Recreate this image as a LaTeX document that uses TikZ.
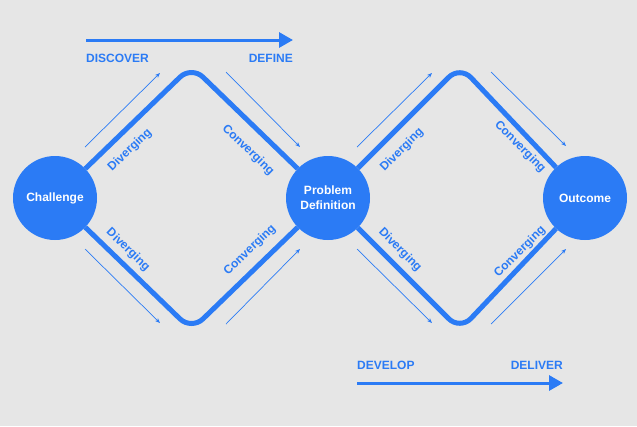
\documentclass[tikz,border=0pt]{standalone}
\usepackage{fontspec}
\setmainfont{Liberation Sans}
\usetikzlibrary{arrows.meta}
\definecolor{bg}{RGB}{230,230,230}
\definecolor{blu}{RGB}{43,123,245}
\begin{document}
\begin{tikzpicture}[x=1pt,y=-1pt,
  hub/.style={circle,fill=blu,minimum size=84pt,inner sep=0pt,text=white,font=\bfseries\fontsize{12}{15}\selectfont,align=center},
  track/.style={draw=blu,line width=5pt,rounded corners=16pt},
  hint/.style={draw=blu,line width=0.7pt,-{Stealth[length=5pt,width=4pt]}},
  phase/.style={text=blu,font=\bfseries\fontsize{12}{14}\selectfont,inner sep=0pt},
  flow/.style={draw=blu,line width=3pt,-{Triangle[length=14pt,width=15pt]}},
  tag/.style={text=blu,font=\bfseries\fontsize{12}{14}\selectfont,inner sep=0pt}]
\fill[bg] (0,0) rectangle (637,426);
\useasboundingbox (0,0) rectangle (637,426);
% hubs
\node[hub] (ch) at (55,198) {Challenge};
\node[hub] (pd) at (328,198) {Problem\\Definition};
\node[hub] (oc) at (585,198) {Outcome};
% diamond corners
\coordinate (t1) at (191.5,66);
\coordinate (b1) at (191.5,330);
\coordinate (t2) at (460,66);
\coordinate (b2) at (460,330);
\draw[track] (ch) -- (t1) -- (pd);
\draw[track] (ch) -- (b1) -- (pd);
\draw[track] (pd) -- (t2) -- (oc);
\draw[track] (pd) -- (b2) -- (oc);
% thin hint arrows
\coordinate (h1a) at (85,147);  \coordinate (h1b) at (160,73);
\coordinate (h2a) at (226,72);  \coordinate (h2b) at (300,147);
\coordinate (h3a) at (85,249);  \coordinate (h3b) at (160,323);
\coordinate (h4a) at (226,324); \coordinate (h4b) at (300,249);
\coordinate (h5a) at (357,147); \coordinate (h5b) at (432,73);
\coordinate (h6a) at (491,72);  \coordinate (h6b) at (566,146);
\coordinate (h7a) at (357,249); \coordinate (h7b) at (432,323);
\coordinate (h8a) at (491,324); \coordinate (h8b) at (566,249);
\draw[hint] (h1a) -- (h1b);
\draw[hint] (h2a) -- (h2b);
\draw[hint] (h3a) -- (h3b);
\draw[hint] (h4a) -- (h4b);
\draw[hint] (h5a) -- (h5b);
\draw[hint] (h6a) -- (h6b);
\draw[hint] (h7a) -- (h7b);
\draw[hint] (h8a) -- (h8b);
% track labels
\node[tag,rotate=44] (l1) at (130,150) {Diverging};
\node[tag,rotate=-44] (l2) at (248,150) {Converging};
\node[tag,rotate=-44] (l3) at (128,250) {Diverging};
\node[tag,rotate=44] (l4) at (250,250) {Converging};
\node[tag,rotate=45] (l5) at (402,150) {Diverging};
\node[tag,rotate=-45] (l6) at (520,147) {Converging};
\node[tag,rotate=-45] (l7) at (400,250) {Diverging};
\node[tag,rotate=45] (l8) at (520,252) {Converging};
% phase arrows
\coordinate (fa1) at (86,40); \coordinate (fa2) at (293,40);
\draw[flow] (fa1) -- (fa2);
\node[phase,anchor=west] (disc) at (86,58) {DISCOVER};
\node[phase,anchor=east] (defi) at (293,58) {DEFINE};
\coordinate (fb1) at (357,383); \coordinate (fb2) at (563,383);
\draw[flow] (fb1) -- (fb2);
\node[phase,anchor=west] (deve) at (357,365) {DEVELOP};
\node[phase,anchor=east] (deli) at (563,365) {DELIVER};
\end{tikzpicture}
\end{document}
